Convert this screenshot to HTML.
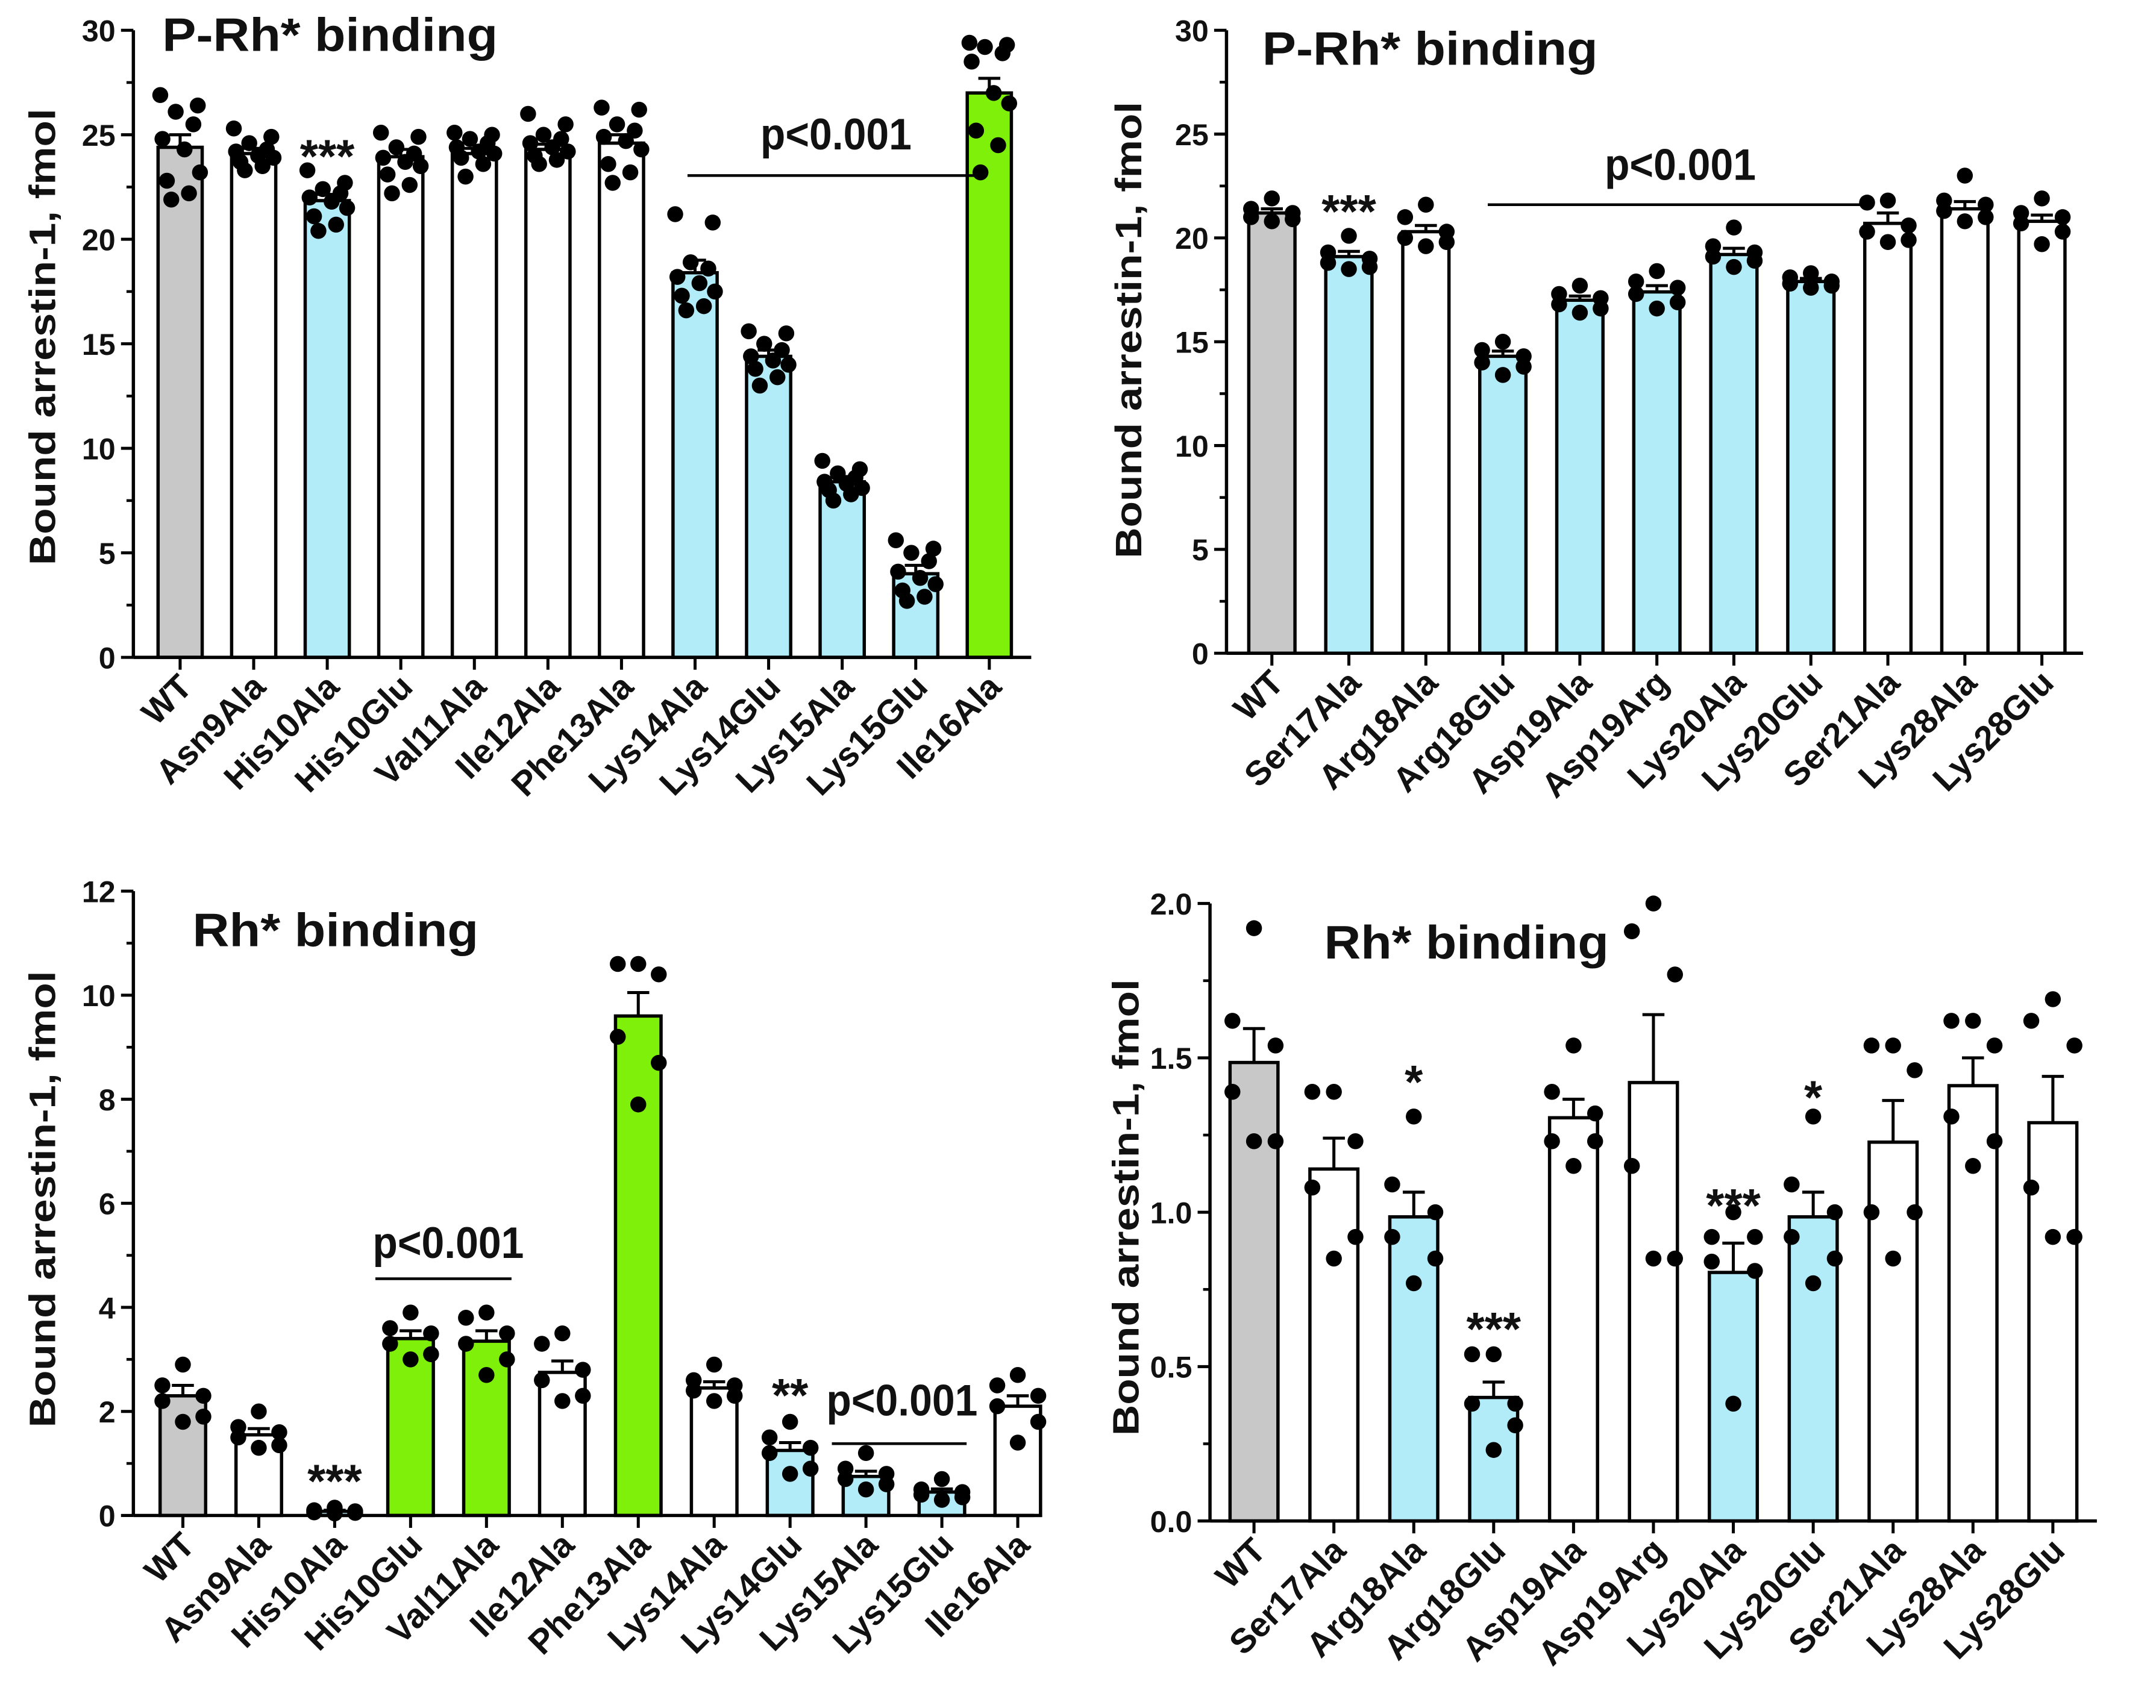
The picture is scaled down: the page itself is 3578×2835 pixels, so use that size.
<!DOCTYPE html>
<html><head><meta charset="utf-8">
<style>
html,body{margin:0;padding:0;background:#fff;}
svg{display:block;}
text{font-family:"Liberation Sans",Arial,sans-serif;font-weight:bold;fill:#111;}
</style></head>
<body>
<svg id="fig" xmlns="http://www.w3.org/2000/svg" width="3578" height="2835" viewBox="0 0 1568 1242" preserveAspectRatio="none"></svg>
<script>
// ---- Panel A: P-Rh* binding (N-term mutants) ----
const catsA = ["WT","Asn9Ala","His10Ala","His10Glu","Val11Ala","Ile12Ala","Phe13Ala","Lys14Ala","Lys14Glu","Lys15Ala","Lys15Glu","Ile16Ala"];
const meansA = [24.4,24.1,21.85,23.95,24.1,24.3,24.6,18.4,14.4,8.4,4.0,27.0];
const errsA = [0.6,0.25,0.3,0.35,0.25,0.25,0.4,0.6,0.3,0.25,0.4,0.7];
const colorsA = ["gray","white","blue","white","white","white","white","blue","blue","blue","blue","green"];
const pointsA = [
 [26.9,26.4,26.1,25.5,24.8,24.3,23.2,22.8,22.2,21.9],
 [25.3,24.9,24.6,24.3,24.2,24.0,23.9,23.7,23.5,23.3],
 [23.3,22.7,22.4,22.2,22.0,21.8,21.5,21.1,20.7,20.4],
 [25.1,24.9,24.4,24.1,23.9,23.7,23.5,23.1,22.6,22.2],
 [25.1,25.0,24.8,24.6,24.4,24.2,24.1,23.9,23.6,23.0],
 [26.0,25.5,25.0,24.8,24.6,24.4,24.2,24.0,23.8,23.6],
 [26.3,26.2,25.5,25.2,24.9,24.7,24.3,23.6,23.2,22.7],
 [21.2,20.8,18.9,18.6,18.2,17.9,17.5,17.3,16.8,16.6],
 [15.6,15.5,15.0,14.7,14.4,14.2,14.0,13.8,13.4,13.0],
 [9.4,9.0,8.8,8.6,8.4,8.3,8.1,8.0,7.8,7.5],
 [5.6,5.2,5.0,4.6,4.1,3.8,3.5,3.2,2.9,2.7],
 [29.4,29.3,29.2,28.9,28.5,27.0,26.5,25.2,24.5,23.2]
];
const ticksA = [0,5,10,15,20,25,30];

// ---- Panel B: P-Rh* binding (C-side mutants) ----
const catsB = ["WT","Ser17Ala","Arg18Ala","Arg18Glu","Asp19Ala","Asp19Arg","Lys20Ala","Lys20Glu","Ser21Ala","Lys28Ala","Lys28Glu"];
const meansB = [21.2,19.1,20.3,14.3,17.0,17.4,19.2,17.9,20.7,21.4,20.8];
const errsB = [0.2,0.25,0.3,0.25,0.2,0.3,0.3,0.15,0.5,0.35,0.3];
const colorsB = ["gray","blue","white","blue","blue","blue","blue","blue","white","white","white"];
const pointsB = [
 [21.9,21.4,21.2,21.0,20.9,20.8],
 [20.1,19.3,19.0,18.8,18.6,18.5],
 [21.6,21.0,20.3,20.0,19.8,19.6],
 [15.0,14.6,14.3,14.0,13.8,13.4],
 [17.7,17.3,17.1,16.8,16.6,16.4],
 [18.4,17.9,17.6,17.3,16.9,16.6],
 [20.5,19.6,19.3,19.1,18.9,18.6],
 [18.3,18.1,17.9,17.8,17.7,17.6],
 [21.8,21.7,20.6,20.3,19.9,19.8],
 [23.0,21.8,21.6,21.3,21.0,20.8],
 [21.9,21.2,21.0,20.7,20.3,19.7]
];
const ticksB = [0,5,10,15,20,25,30];

// ---- Panel C: Rh* binding (N-term mutants) ----
const catsC = catsA.slice();
const meansC = [2.3,1.55,0.08,3.4,3.35,2.75,9.6,2.45,1.25,0.75,0.45,2.1];
const errsC = [0.2,0.12,0.02,0.15,0.2,0.22,0.45,0.12,0.15,0.1,0.06,0.2];
const colorsC = ["gray","white","blue","green","green","white","green","white","blue","blue","blue","white"];
const pointsC = [
 [2.9,2.5,2.3,2.2,1.9,1.8],
 [2.0,1.7,1.6,1.5,1.35,1.3],
 [0.15,0.1,0.08,0.06,0.05,0.04],
 [3.9,3.6,3.5,3.3,3.1,3.0],
 [3.9,3.8,3.5,3.3,3.0,2.7],
 [3.5,3.3,2.8,2.6,2.3,2.2],
 [10.6,10.6,10.4,9.2,8.7,7.9],
 [2.9,2.6,2.5,2.4,2.3,2.2],
 [1.8,1.5,1.3,1.2,0.9,0.8],
 [1.2,0.9,0.8,0.7,0.6,0.5],
 [0.7,0.5,0.45,0.4,0.35,0.3],
 [2.7,2.5,2.3,2.1,1.8,1.4]
];
const ticksC = [0,2,4,6,8,10,12];

// ---- Panel D: Rh* binding (C-side mutants) ----
const catsD = catsB.slice();
const meansD = [1.485,1.14,0.985,0.40,1.306,1.42,0.805,0.985,1.227,1.41,1.29];
const errsD = [0.11,0.1,0.08,0.05,0.06,0.22,0.095,0.08,0.135,0.09,0.15];
const colorsD = ["gray","white","blue","blue","white","white","blue","blue","white","white","white"];
const pointsD = [
 [1.92,1.62,1.54,1.39,1.23,1.23],
 [1.39,1.39,1.23,1.08,0.92,0.85],
 [1.31,1.09,1.0,0.92,0.85,0.77],
 [0.54,0.54,0.38,0.38,0.31,0.23],
 [1.54,1.39,1.32,1.23,1.23,1.15],
 [2.0,1.91,1.77,1.15,0.85,0.85],
 [1.0,0.92,0.92,0.84,0.81,0.38],
 [1.31,1.09,1.0,0.92,0.85,0.77],
 [1.54,1.54,1.46,1.0,1.0,0.85],
 [1.62,1.62,1.54,1.31,1.23,1.15],
 [1.69,1.62,1.54,1.08,0.92,0.92]
];
const ticksD = [0,0.5,1.0,1.5,2.0];

const NS = "http://www.w3.org/2000/svg";
const svg = document.getElementById("fig");
const FILL = {gray:"#c8c8c8", white:"#ffffff", blue:"#b2ecf8", green:"#7ff00a"};
const jit10 = [-0.45,0.4,-0.1,0.3,-0.4,0.1,0.45,-0.3,0.2,-0.2];
const jit6 = [0,-0.45,0.45,-0.45,0.45,0];

function mk(tag, attrs, parent){
  const e = document.createElementNS(NS, tag);
  for (const k in attrs) e.setAttribute(k, attrs[k]);
  (parent||svg).appendChild(e);
  return e;
}

function panel(p){
  const g = mk("g", {});
  
  
  const ymax = p.ticks[p.ticks.length-1];
  const Y = v => p.y0 - (v/ymax)*(p.y0 - p.ytop);
  const X = i => p.ax + p.off + i*p.step;
  const bw = p.step*0.6;
  p.means.forEach((m,i)=>{
    const r = mk("rect",{x:X(i)-bw/2, y:Y(m), width:bw, height:p.y0-Y(m), fill:FILL[p.colors[i]], stroke:"#000","stroke-width":2.4}, g);
    
    
  });
  p.means.forEach((m,i)=>{
    const top = Y(m+p.errs[i]);
    const l = mk("path",{d:`M${X(i)},${Y(m)}V${top}M${X(i)-8},${top}H${X(i)+8}`, stroke:"#000","stroke-width":2.2, fill:"none"}, g);
    
    
  });
  p.points.forEach((arr,i)=>{
    const jit = arr.length>6 ? jit10 : jit6;
    arr.forEach((v,k)=>{
      const c = mk("circle",{cx:X(i)+jit[k%jit.length]*bw, cy:Y(v), r:5.8, fill:"#000"}, g);
      
      
    });
  });
  const axisY = mk("path",{d:`M${p.ax},${p.ytop}V${p.y0}`, stroke:"#000","stroke-width":2.4}, g);
  
  
  const axisX = mk("path",{d:`M${p.ax},${p.y0}H${p.xend}`, stroke:"#000","stroke-width":2.4}, g);
  
  
  p.ticks.forEach((t,k)=>{
    mk("path",{d:`M${p.ax-9},${Y(t)}H${p.ax}`, stroke:"#000","stroke-width":2.2}, g);
    if (k>0){
      const mv = (t+p.ticks[k-1])/2;
      mk("path",{d:`M${p.ax-5},${Y(mv)}H${p.ax}`, stroke:"#000","stroke-width":2}, g);
    }
    const tl = mk("text",{x:p.ax-13, y:Y(t)+8, "text-anchor":"end","font-size":22}, g);
    tl.textContent = p.fmt ? t.toFixed(1) : t;
    
    
  });
  p.cats.forEach((c,i)=>{
    mk("path",{d:`M${X(i)},${p.y0}V${p.y0+9}`, stroke:"#000","stroke-width":2.2}, g);
    const tx = mk("text",{transform:`translate(${X(i)+10},${p.y0+23}) rotate(-45)`, "text-anchor":"end","font-size":25}, g);
    tx.textContent = c;
    
    
  });
  const yt = mk("text",{transform:`translate(${p.ylx},${p.ylc}) rotate(-90)`, "text-anchor":"middle","font-size":27, textLength:332, lengthAdjust:"spacingAndGlyphs"}, g);
  yt.textContent = "Bound arrestin-1,  fmol";
  
  
  const tt = mk("text",{x:p.tx, y:p.ty, "font-size":34, textLength:p.tw, lengthAdjust:"spacingAndGlyphs"}, g);
  tt.textContent = p.title;
  
  
  (p.ann||[]).forEach(a=>{
    if (a.line){
      const ln = mk("path",{d:`M${a.line[0]},${Y(a.ly)}H${a.line[1]}`, stroke:"#000","stroke-width":2}, g);
      
      
    }
    const at = mk("text",{x:a.cx!==undefined?a.cx:X(a.i), y:Y(a.ty), "text-anchor":"middle","font-size":a.fs||30}, g);
    if (a.tl){ at.setAttribute("textLength", a.tl); at.setAttribute("lengthAdjust","spacingAndGlyphs"); }
    at.textContent = a.text;
    
    
  });
}

panel({id:"panel-a", cats:catsA, means:meansA, errs:errsA, colors:colorsA, points:pointsA, ticks:ticksA,
  ax:97, off:34, step:53.5, y0:478, ytop:22, xend:750, ylx:40, ylc:245, title:"P-Rh* binding", tx:118, ty:37, tw:244,
  ann:[{text:"***", i:2, ty:23.2, fs:34},{text:"p<0.001", line:[500,710], ly:23.05, cx:608, ty:24.3, tl:110, fs:32}]});
panel({id:"panel-b", cats:catsB, means:meansB, errs:errsB, colors:colorsB, points:pointsB, ticks:ticksB,
  ax:892, off:33, step:56, y0:475, ytop:22, xend:1515, ylx:830, ylc:240, title:"P-Rh* binding", tx:918, ty:47, tw:244,
  ann:[{text:"***", i:1, ty:20.5, fs:34},{text:"p<0.001", line:[1082,1355], ly:21.6, cx:1222, ty:22.8, tl:110, fs:32}]});
panel({id:"panel-c", cats:catsC, means:meansC, errs:errsC, colors:colorsC, points:pointsC, ticks:ticksC,
  ax:97, off:36, step:55.2, y0:1102, ytop:648, xend:752, ylx:40, ylc:872, title:"Rh* binding", tx:140, ty:688, tw:208,
  ann:[{text:"***", i:2, ty:0.35, fs:34},{text:"**", i:8, ty:2.0, fs:34},
       {text:"p<0.001", line:[273,372], ly:4.55, cx:326, ty:4.95, tl:110, fs:32},
       {text:"p<0.001", line:[605,703], ly:1.38, cx:656, ty:1.92, tl:110, fs:32}]});
panel({id:"panel-d", cats:catsD, means:meansD, errs:errsD, colors:colorsD, points:pointsD, ticks:ticksD,
  ax:880, off:32, step:58.1, y0:1106, ytop:657, xend:1525, ylx:828, ylc:878, title:"Rh* binding", tx:963, ty:697, tw:207, fmt:true,
  ann:[{text:"*", i:2, ty:1.37, fs:34},{text:"***", i:3, ty:0.57, fs:34},{text:"***", i:6, ty:0.97, fs:34},{text:"*", i:7, ty:1.32, fs:34}]});
</script>
</body></html>
